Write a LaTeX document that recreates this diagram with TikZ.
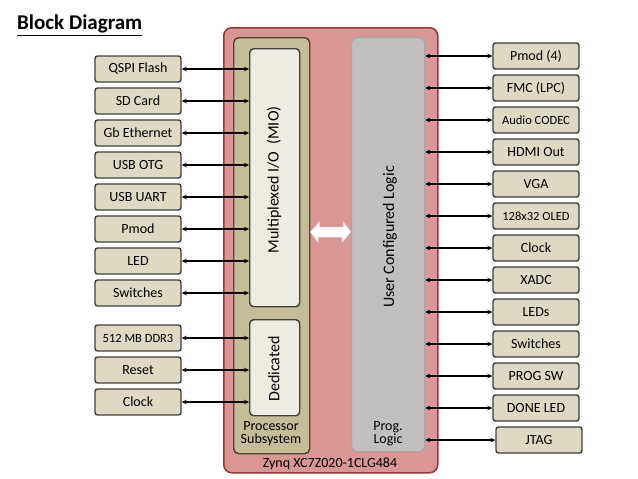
\documentclass[tikz,border=0pt]{standalone}
\usepackage{fontspec}
\setmainfont{Carlito}
\usetikzlibrary{arrows.meta}
\definecolor{boxfill}{HTML}{DDD9C3}
\definecolor{boxline}{HTML}{3F3F3F}
\definecolor{pinkfill}{HTML}{DA9694}
\definecolor{pinkline}{HTML}{953735}
\definecolor{tanfill}{HTML}{C4BD97}
\definecolor{tanline}{HTML}{4A4632}
\definecolor{miofill}{HTML}{EEECE1}
\definecolor{grayfill}{HTML}{C0C0C0}
\definecolor{grayline}{HTML}{A6A6A6}
\tikzset{
  iobox/.style={draw=boxline, fill=boxfill, line width=1.4pt, rounded corners=2.5pt,
    minimum width=86pt, minimum height=26pt, inner sep=0pt,
    font=\fontsize{14}{16}\selectfont},
  smalltxt/.style={font=\fontsize{12.5}{14}\selectfont},
  link/.style={line width=1.1pt, {Stealth[length=5pt,width=4.5pt]}-{Stealth[length=5pt,width=4.5pt]}},
  region/.style={inner sep=0pt, anchor=north west},
  lbl/.style={inner sep=0pt, font=\fontsize{14}{13}\selectfont, align=center},
  vlbl/.style={inner sep=0pt, rotate=90, font=\fontsize{16}{18}\selectfont},
}
\begin{document}
\begin{tikzpicture}[x=1pt,y=-1pt]
\useasboundingbox (0,0) rectangle (638,479);
\fill[white] (0,0) rectangle (638,479);

% title
\node[anchor=base west, inner sep=0pt, font=\fontsize{21}{24}\selectfont\bfseries] (title) at (17,30) {\underline{Block Diagram}};

% chip
\node[region, draw=pinkline, fill=pinkfill, line width=1.5pt, rounded corners=8pt,
  minimum width=214pt, minimum height=445pt] (chip) at (223,27) {};
\node[region, draw=tanline, fill=tanfill, line width=1.4pt, rounded corners=5pt,
  minimum width=76pt, minimum height=416pt] (ps) at (233,37) {};
\node[region, draw=boxline, fill=miofill, line width=1.4pt, rounded corners=4pt,
  minimum width=50pt, minimum height=258pt] (mio) at (249,48) {};
\node[region, draw=boxline, fill=miofill, line width=1.4pt, rounded corners=4pt,
  minimum width=50pt, minimum height=96pt] (ded) at (249,319) {};
\node[region, draw=grayline, fill=grayfill, line width=1.2pt, rounded corners=6pt,
  minimum width=73pt, minimum height=414pt] (pl) at (351,37) {};

\node[vlbl] (miotxt) at (274,180) {Multiplexed I/O\ \ (MIO)};
\node[vlbl] (dedtxt) at (274,369) {Dedicated};
\node[vlbl] (pltxt) at (390,237) {User Configured Logic};
\node[lbl] (pstxt) at (271,434) {Processor\\Subsystem};
\node[lbl] (plltxt) at (388,434) {Prog.\\Logic};
\node[lbl] (chiptxt) at (330,464) {Zynq XC7Z020-1CLG484};

% white double arrow
\path[fill=white, draw=white!88!black, line width=0.5pt]
  (ps.east |- 0,232) -- ++(9,-10) -- ++(0,5) -- ++(24,0) -- ++(0,-5)
  -- (pl.west |- 0,232) -- ++(-9,10) -- ++(0,-5) -- ++(-24,0) -- ++(0,5) -- cycle;

% left boxes
\node[iobox] (l1) at (138,69) {QSPI Flash};
\node[iobox] (l2) at (138,101) {SD Card};
\node[iobox] (l3) at (138,133) {Gb Ethernet};
\node[iobox] (l4) at (138,165) {USB OTG};
\node[iobox] (l5) at (138,197) {USB UART};
\node[iobox] (l6) at (138,229) {Pmod};
\node[iobox] (l7) at (138,261) {LED};
\node[iobox] (l8) at (138,293) {Switches};
\node[iobox, smalltxt] (l9) at (138,338) {512 MB DDR3};
\node[iobox] (l10) at (138,370) {Reset};
\node[iobox] (l11) at (138,402) {Clock};

\foreach \n in {l1,l2,l3,l4,l5,l6,l7,l8}
  \draw[link] (\n.east) -- (\n.east -| mio.west);
\foreach \n in {l9,l10,l11}
  \draw[link] (\n.east) -- (\n.east -| ded.west);

% right boxes
\node[iobox] (r1) at (536,56) {Pmod (4)};
\node[iobox] (r2) at (536,88) {FMC (LPC)};
\node[iobox, smalltxt] (r3) at (536,120) {Audio CODEC};
\node[iobox] (r4) at (536,152) {HDMI Out};
\node[iobox] (r5) at (536,184) {VGA};
\node[iobox, smalltxt] (r6) at (536,216) {128x32 OLED};
\node[iobox] (r7) at (536,248) {Clock};
\node[iobox] (r8) at (536,280) {XADC};
\node[iobox] (r9) at (536,312) {LEDs};
\node[iobox] (r10) at (536,344) {Switches};
\node[iobox] (r11) at (536,376) {PROG SW};
\node[iobox] (r12) at (536,408) {DONE LED};
\node[iobox] (r13) at (539,440) {JTAG};

\foreach \n in {r1,r2,r3,r4,r5,r6,r7,r8,r9,r10,r11,r12,r13}
  \draw[link] (\n.west) -- (\n.west -| pl.east);
\end{tikzpicture}
\end{document}
